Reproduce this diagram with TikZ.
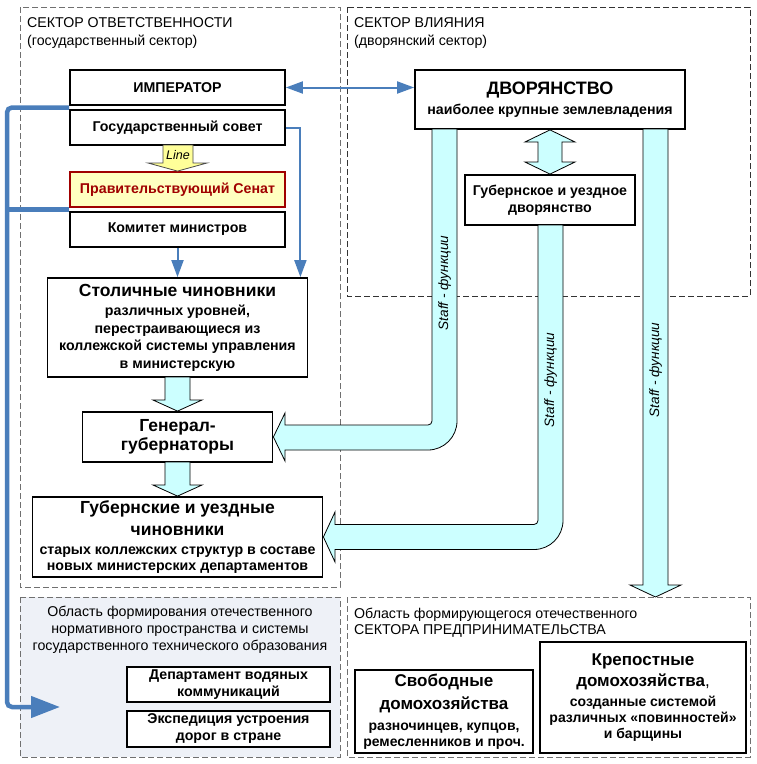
\documentclass[tikz,border=0pt]{standalone}
\usepackage{fontspec}
\setmainfont{Liberation Sans}
\usetikzlibrary{calc,arrows.meta}
\definecolor{lblue}{HTML}{4A7EBB}
\definecolor{cyanf}{HTML}{CCFFFF}
\definecolor{senred}{HTML}{A00000}
\definecolor{senfill}{HTML}{FFFFC0}
\definecolor{linefill}{HTML}{FFFF99}
\definecolor{areafill}{HTML}{EEF1F7}
\definecolor{dashgray}{HTML}{707070}
\newcommand{\fbg}{\fontsize{17.5}{21}\selectfont}
\newcommand{\fbh}{\fontsize{17}{21}\selectfont}
\begin{document}
\begin{tikzpicture}[x=1pt,y=-1pt,
  sector/.style={draw=dashgray, line width=1pt, dash pattern=on 6pt off 3pt},
  box/.style={draw=black, line width=1.8pt, fill=white, align=center, inner sep=1pt,
    font=\bfseries\fontsize{14.2}{17.5}\selectfont},
  fat/.style={draw=black, line width=0.8pt, fill=cyanf},
  thinarr/.style={draw=lblue, line width=2pt, -{Triangle[length=17pt,width=12pt]}},
  thickblue/.style={draw=lblue, line width=4.5pt, rounded corners=5pt},
  hdr/.style={font=\fontsize{14.2}{17}\selectfont, inner sep=0pt},
  stafflbl/.style={font=\itshape\fontsize{13.6}{15}\selectfont, inner sep=0pt, rotate=90}
]
\useasboundingbox (0,0) rectangle (756,764);
\fill[white] (0,0) rectangle (756,764);

% sectors
\draw[sector] (20,7) rectangle (340,587);
\draw[sector, draw=black!80] (347,7) rectangle (750,296);
\draw[sector, fill=areafill] (20,597) rectangle (340,757);
\draw[sector] (347,597) rectangle (750,757);

\node[hdr, anchor=base west] (t1a) at (27,27) {СЕКТОР ОТВЕТСТВЕННОСТИ};
\node[hdr, anchor=base west] (t1b) at (27,45) {(государственный сектор)};
\node[hdr, anchor=base west] (t2a) at (354,27) {СЕКТОР ВЛИЯНИЯ};
\node[hdr, anchor=base west] (t2b) at (354,45) {(дворянский сектор)};
\node[hdr, align=center] (t3) at (180,630) {Область формирования отечественного\\нормативного пространства и системы\\государственного технического образования};
\node[hdr, anchor=base west] (t4a) at (354,618) {Область формирующегося отечественного};
\node[hdr, anchor=base west] (t4b) at (354,634) {СЕКТОРА ПРЕДПРИНИМАТЕЛЬСТВА};

% left column boxes
\node[box, minimum width=215pt, minimum height=35pt] (imp) at (177.5,87.5) {ИМПЕРАТОР};
\node[box, minimum width=215pt, minimum height=35pt] (gos) at (177.5,127.5) {Государственный совет};
\node[box, draw=senred, fill=senfill, text=senred, minimum width=215pt, minimum height=35pt] (sen) at (177.5,189.5) {Правительствующий Сенат};
\node[box, minimum width=215pt, minimum height=35pt] (kom) at (177.5,229.5) {Комитет министров};
\node[box, minimum width=260pt, minimum height=99pt] (stol) at (177.5,327.5)
  {\fbg Столичные чиновники\\[2pt]различных уровней,\\перестраивающиеся из\\коллежской системы управления\\в министерскую};
\node[box, minimum width=190pt, minimum height=50pt, font=\bfseries\fontsize{17.5}{19.5}\selectfont] (gen) at (177.5,437) {Генерал-\\губернаторы};
\node[box, minimum width=290pt, minimum height=80pt, font=\bfseries\fontsize{14.2}{16.5}\selectfont] (gubch) at (177.5,537)
  {\fbg Губернские и уездные\\[5.5pt]\fbg чиновники\\[2.5pt]старых коллежских структур в составе\\новых министерских департаментов};

% right boxes
\node[box, minimum width=270pt, minimum height=59pt] (dvor) at (550,99.5)
  {\fontsize{18}{22}\selectfont ДВОРЯНСТВО\\[2.5pt]наиболее крупные землевладения};
\node[box, minimum width=170pt, minimum height=50pt, font=\bfseries\fontsize{14.2}{17}\selectfont] (gubdv) at (550,200) {Губернское и уездное\\дворянство};

% bottom boxes
\node[box, minimum width=203pt, minimum height=35pt, font=\bfseries\fontsize{14.2}{17}\selectfont] (dep) at (228.5,684.5) {Департамент водяных\\коммуникаций};
\node[box, minimum width=203pt, minimum height=36pt, font=\bfseries\fontsize{14.2}{17}\selectfont] (exp) at (228.5,729) {Экспедиция устроения\\дорог в стране};
\node[box, minimum width=178pt, minimum height=83pt, font=\bfseries\fontsize{14}{16}\selectfont] (svob) at (444,711.5)
  {\fbh Свободные\\[6pt]\fbh домохозяйства\\[5pt]разночинцев, купцов,\\ремесленников и проч.};
\node[box, minimum width=206pt, minimum height=111pt, font=\bfseries\fontsize{14}{15.8}\selectfont] (krep) at (643,697.5)
  {\fbh Крепостные\\[4pt]\fbh домохозяйства{\mdseries ,}\\[4pt]созданные системой\\различных «повинностей»\\и барщины};

% Line arrow
\draw[draw=black!70, line width=0.8pt, fill=linefill] (163,145) -- (163,163) -- (148,163) -- (sen.north) -- (207,163) -- (193,163) -- (193,145) -- cycle;
\node[font=\itshape\fontsize{12.5}{14}\selectfont, inner sep=0pt] (lineT) at (178,155) {Line};

% fat arrows in left column
\draw[fat] (165,377) -- (165,400) -- (153,400) -- (gen.north) -- (202,400) -- (190,400) -- (190,377) -- cycle;
\draw[fat] (165,462) -- (165,485) -- (153,485) -- (gubch.north) -- (202,485) -- (190,485) -- (190,462) -- cycle;

% double arrow
\draw[fat] (dvor.south) -- (575,142) -- (562,142) -- (562,162) -- (575,162) -- (gubdv.north) -- (525,162) -- (538,162) -- (538,142) -- (525,142) -- cycle;

% staff arrows
\draw[fat] (432,129) -- (432,421) .. controls (432,423.2) and (430.2,425) .. (428,425) -- (285,425) -- (285,413) -- (gen.east) -- (285,461) -- (285,450) -- (428,450) .. controls (444,450) and (457,437) .. (457,421) -- (457,129) -- cycle;
\node[stafflbl] (s1) at (444.5,283) {Staff - функции};

\draw[fat] (538,225) -- (538,520.5) .. controls (538,522.7) and (536.2,524.5) .. (534,524.5) -- (335,524.5) -- (335,512) -- (gubch.east) -- (335,562) -- (335,549.5) -- (534,549.5) .. controls (550,549.5) and (563,536.5) .. (563,520.5) -- (563,225) -- cycle;
\node[stafflbl] (s2) at (550.5,380) {Staff - функции};

\coordinate (t3top) at (655.5,597);
\draw[fat] (643,129) -- (643,585) -- (630,585) -- (t3top) -- (681,585) -- (668,585) -- (668,129) -- cycle;
\node[stafflbl] (s3) at (655.5,370) {Staff - функции};

% thin blue arrows
\draw[thinarr, {Triangle[length=17pt,width=12pt]}-{Triangle[length=17pt,width=12pt]}] (imp.east) -- (imp.east -| dvor.west);
\draw[thinarr] (gos.east) -| ($(stol.north east)+(-8,0)$);
\draw[thinarr] (kom.south) -- (kom.south |- stol.north);

% thick blue line
\coordinate (j1) at ($(imp.south west)!0.5!(gos.north west)$);
\coordinate (j2) at ($(sen.south west)!0.5!(kom.north west)$);
\coordinate (bl) at (60,707);
\draw[thickblue, -{Triangle[length=29pt,width=21pt]}] (j1) -- (7,107.5) -- (7,707) -- (bl);
\draw[thickblue] (j2) -- (7,209.5);
\end{tikzpicture}
\end{document}
